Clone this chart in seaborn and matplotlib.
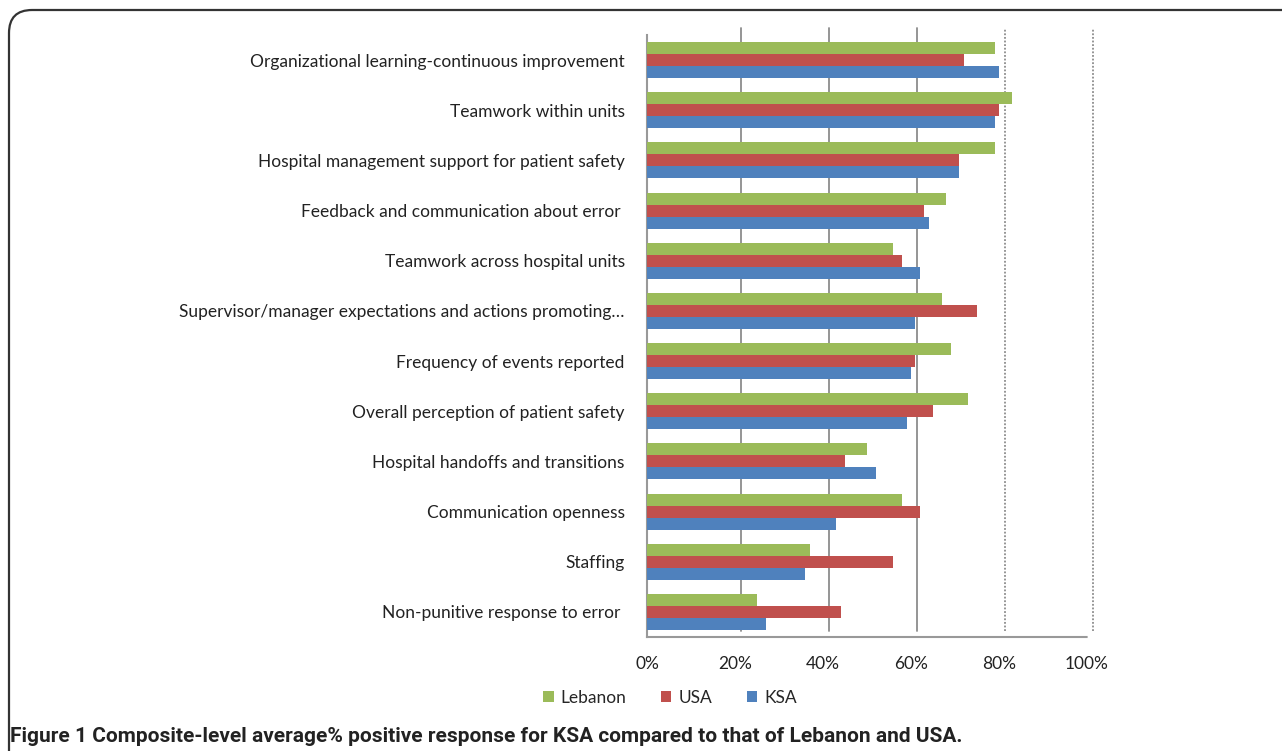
import matplotlib
matplotlib.use("Agg")
import matplotlib.pyplot as plt
import matplotlib.transforms as mtransforms
from matplotlib.patches import FancyBboxPatch
import seaborn as sns
import pandas as pd

categories = [
    "Organizational learning-continuous improvement",
    "Teamwork within units",
    "Hospital management support for patient safety",
    "Feedback and communication about error ",
    "Teamwork across hospital units",
    "Supervisor/manager expectations and actions promoting\u2026",
    "Frequency of events reported",
    "Overall perception of patient safety",
    "Hospital handoffs and transitions",
    "Communication openness",
    "Staffing",
    "Non-punitive response to error ",
]
series_names = ["Lebanon", "USA", "KSA"]
lebanon = [79, 83, 79, 68, 56, 67, 69, 73, 50, 58, 37, 25]
usa = [72, 80, 71, 63, 58, 75, 61, 65, 45, 62, 56, 44]
ksa = [80, 79, 71, 64, 62, 61, 60, 59, 52, 43, 36, 27]
tick_values = [0, 0.2, 0.4, 0.6, 0.8, 1.0]
tick_labels = ["0%", "20%", "40%", "60%", "80%", "100%"]
colors = ["#9BBB59", "#C0504D", "#4F81BD"]

rows = []
for name, vals in zip(series_names, [lebanon, usa, ksa]):
    for c, v in zip(categories, vals):
        rows.append({"category": c, "country": name, "value": v / 100.0})
df = pd.DataFrame(rows)

sns.set_style("white")
plt.rcParams["font.family"] = ["Lato", "DejaVu Sans"]

fig = plt.figure(figsize=(12.82, 7.51), dpi=100)
ax = fig.add_axes([647 / 1282, 1 - 637 / 751, 440 / 1282, 602 / 751])

sns.barplot(data=df, y="category", x="value", hue="country",
            order=categories, hue_order=series_names, palette=colors,
            width=0.72, orient="h", ax=ax, legend=True, saturation=1,
            linewidth=0)
for p in ax.patches:
    p.set_zorder(3)

ax.set_xlim(0, 1.0)
ax.set_ylim(len(categories) - 0.5, -0.5)
ax.set_xticks(tick_values)
ax.set_xticklabels(tick_labels, fontsize=12.5, color="#222222")
ax.tick_params(axis="y", labelsize=12.5, colors="#222222", length=0, pad=16)
ax.tick_params(axis="x", length=0, pad=14)
ax.set_xlabel("")
ax.set_ylabel("")

# back-wall gridlines (shifted a few pixels like the 3-D back wall)
offset = mtransforms.ScaledTranslation(6 / 100, 0, fig.dpi_scale_trans)
trans = ax.get_xaxis_transform() + offset
for t in tick_values[1:]:
    ls = (0, (1, 1)) if t >= 0.8 else "-"
    ax.plot([t, t], [0.01, 1.012], transform=trans, color="#8c8c8c",
            lw=1.3, ls=ls, clip_on=False, zorder=0.5)

for s in ["top", "right"]:
    ax.spines[s].set_visible(False)
for s in ["left", "bottom"]:
    ax.spines[s].set_color("#999999")
    ax.spines[s].set_linestyle((0, (1, 1)))
    ax.spines[s].set_linewidth(1.5)

leg = ax.legend(loc="center", bbox_to_anchor=(670 / 1282, 1 - 698 / 751),
                bbox_transform=fig.transFigure, ncol=3, frameon=False,
                fontsize=12.5, handlelength=0.6, handleheight=0.6,
                handletextpad=0.4, columnspacing=2.0)

fig.text(10 / 1282, 1 - 736 / 751,
         "Figure 1 Composite-level average% positive response for KSA compared to that of Lebanon and USA.",
         fontsize=15, fontweight="bold", ha="left", va="center",
         family=["Roboto", "DejaVu Sans"], color="#222222")

box = FancyBboxPatch((9 / 1282, 1 - 790 / 751), 1320 / 1282, 780 / 751,
                     boxstyle="round,pad=0,rounding_size=0.018",
                     transform=fig.transFigure, fill=False,
                     edgecolor="#333333", lw=1.6, mutation_aspect=1282 / 751)
fig.patches.append(box)

fig.savefig("out.png", dpi=100)
